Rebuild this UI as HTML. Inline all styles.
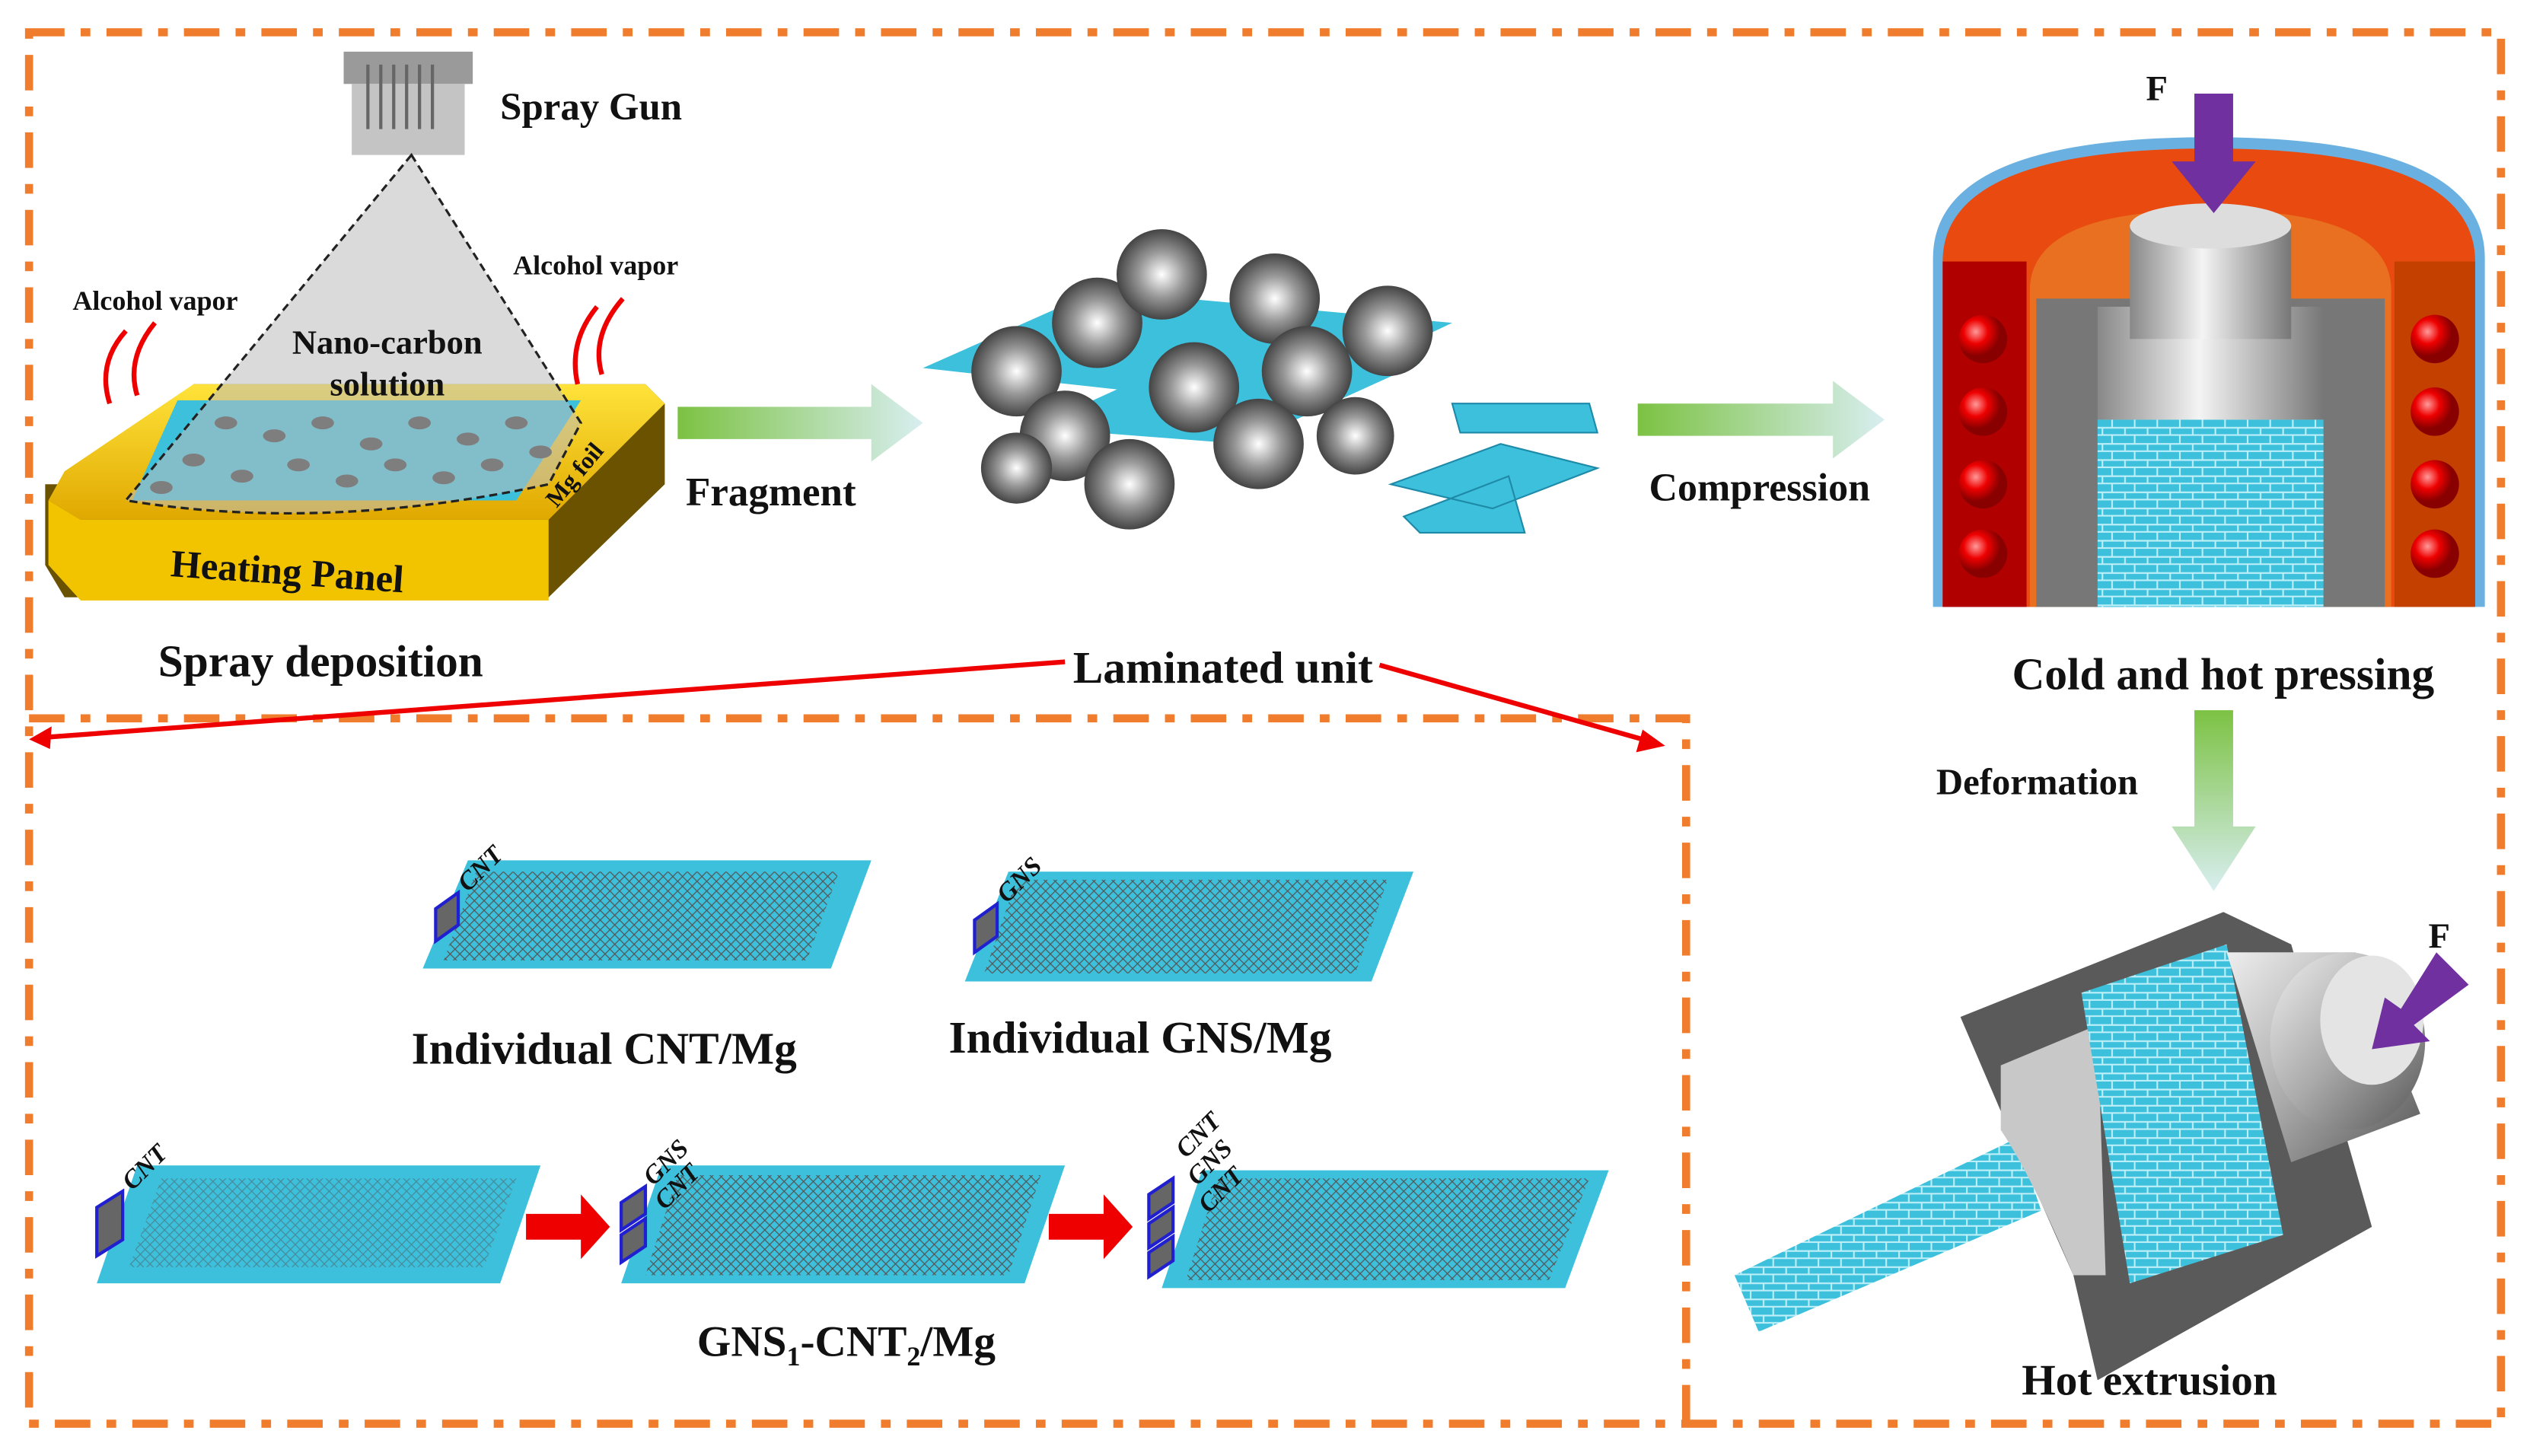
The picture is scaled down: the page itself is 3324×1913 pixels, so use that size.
<!DOCTYPE html>
<html><head><meta charset="utf-8"><style>html,body{margin:0;padding:0;background:#fff}svg{display:block}text{font-family:"Liberation Serif",serif;font-weight:bold;fill:#111}</style></head><body>
<svg width="3324" height="1913" viewBox="0 0 1568 902" preserveAspectRatio="none" xmlns="http://www.w3.org/2000/svg">
<defs>
<linearGradient id="ga" x1="0" x2="1"><stop offset="0" stop-color="#7cc243"/><stop offset="1" stop-color="#d8eef0"/></linearGradient>
<linearGradient id="gv" y1="0" y2="1" x1="0" x2="0"><stop offset="0" stop-color="#7cc243"/><stop offset="1" stop-color="#d8eef0"/></linearGradient>
<linearGradient id="cyl" x1="0" x2="1"><stop offset="0" stop-color="#888"/><stop offset=".45" stop-color="#f4f4f4"/><stop offset="1" stop-color="#777"/></linearGradient>
<linearGradient id="cyl2" x1="0" y1="0" x2="1" y2="1"><stop offset="0" stop-color="#eee"/><stop offset=".5" stop-color="#aaa"/><stop offset="1" stop-color="#555"/></linearGradient>
<linearGradient id="yl" y1="0" y2="1" x1="0" x2="0"><stop offset="0" stop-color="#ffe33a"/><stop offset="1" stop-color="#e0a800"/></linearGradient>
<radialGradient id="rb" cx=".35" cy=".35"><stop offset="0" stop-color="#ff9a9a"/><stop offset=".5" stop-color="#e00"/><stop offset="1" stop-color="#800"/></radialGradient>
<radialGradient id="disc" cx=".5" cy=".5"><stop offset="0" stop-color="#fff"/><stop offset=".5" stop-color="#999"/><stop offset="1" stop-color="#444"/></radialGradient>
<pattern id="brick" width="14" height="10" patternUnits="userSpaceOnUse"><rect width="14" height="10" fill="#3cc0dc"/><path d="M0 9.5H14M7 0V5M0 5H14M1 5V10" stroke="#bdeff8" stroke-width="1" fill="none"/></pattern>
<pattern id="mesh" width="6" height="6" patternUnits="userSpaceOnUse"><path d="M0 0L6 6M6 0L0 6" stroke="#555" stroke-width=".6"/></pattern>
</defs>
<g fill="none" stroke="#ef7d2d" stroke-width="5" stroke-dasharray="22 10 6 10">
<rect x="18" y="20" width="1532" height="862"/>
<path d="M18 445H1045V882"/>
</g>
<!-- spray gun -->
<rect x="213" y="32" width="80" height="20" fill="#9a9a9a"/>
<rect x="218" y="52" width="70" height="44" fill="#c4c4c4"/>
<path d="M228 40V80M236 40V80M244 40V80M252 40V80M260 40V80M268 40V80" stroke="#666" stroke-width="2"/>
<text x="310" y="74" font-size="24">Spray Gun</text>
<!-- heating panel -->
<path d="M40 300L120 238H400L412 250V300L340 370H40L28 350V300Z" fill="#6a5200"/>
<path d="M40 292L120 238H400L412 250L340 322H50L30 310Z" fill="url(#yl)"/>
<path d="M30 310L50 322H340V372H50L30 350Z" fill="#f2c400"/>
<path d="M110 248H360L320 310H82Z" fill="#3cc0dc"/>
<g fill="#333"><ellipse cx="140" cy="262" rx="7" ry="4"/><ellipse cx="170" cy="270" rx="7" ry="4"/><ellipse cx="200" cy="262" rx="7" ry="4"/><ellipse cx="230" cy="275" rx="7" ry="4"/><ellipse cx="260" cy="262" rx="7" ry="4"/><ellipse cx="290" cy="272" rx="7" ry="4"/><ellipse cx="320" cy="262" rx="7" ry="4"/><ellipse cx="120" cy="285" rx="7" ry="4"/><ellipse cx="150" cy="295" rx="7" ry="4"/><ellipse cx="185" cy="288" rx="7" ry="4"/><ellipse cx="215" cy="298" rx="7" ry="4"/><ellipse cx="245" cy="288" rx="7" ry="4"/><ellipse cx="275" cy="296" rx="7" ry="4"/><ellipse cx="305" cy="288" rx="7" ry="4"/><ellipse cx="335" cy="280" rx="7" ry="4"/><ellipse cx="100" cy="302" rx="7" ry="4"/></g>
<path d="M255 96L78 310Q200 330 340 300L360 262Z" fill="#bbb" fill-opacity=".55" stroke="#222" stroke-width="1.5" stroke-dasharray="5 3"/>
<text x="240" y="219" font-size="21" text-anchor="middle">Nano-carbon</text>
<text x="240" y="245" font-size="21" text-anchor="middle">solution</text>
<text x="45" y="192" font-size="17">Alcohol vapor</text>
<text x="318" y="170" font-size="17">Alcohol vapor</text>
<g stroke="#e00" stroke-width="3" fill="none"><path d="M68 250Q60 225 78 205"/><path d="M85 245Q78 222 96 200"/><path d="M358 238Q352 212 370 190"/><path d="M373 232Q366 208 386 185"/></g>
<text x="178" y="362" font-size="24" transform="rotate(4 178 355)" text-anchor="middle">Heating Panel</text>
<text x="345" y="315" font-size="15" transform="rotate(-50 345 315)">Mg foil</text>
<text x="98" y="419" font-size="28">Spray deposition</text>
<!-- arrows -->
<path d="M420 252H540V238L572 262L540 286V272H420Z" fill="url(#ga)"/>
<text x="425" y="313" font-size="25">Fragment</text>
<path d="M1015 250H1136V236L1168 260L1136 284V270H1015Z" fill="url(#ga)"/>
<text x="1022" y="310" font-size="24.5">Compression</text>
<!-- fragment -->
<path d="M572 228L680 180L900 200L790 252Z" fill="#3cc0dc"/>
<path d="M640 265L750 215L880 225L770 275Z" fill="#3cc0dc"/>
<g fill="url(#disc)"><circle cx="630" cy="230" r="28"/><circle cx="680" cy="200" r="28"/><circle cx="720" cy="170" r="28"/><circle cx="790" cy="185" r="28"/><circle cx="860" cy="205" r="28"/><circle cx="660" cy="270" r="28"/><circle cx="740" cy="240" r="28"/><circle cx="810" cy="230" r="28"/><circle cx="700" cy="300" r="28"/><circle cx="780" cy="275" r="28"/><circle cx="630" cy="290" r="22"/><circle cx="840" cy="270" r="24"/></g>
<path d="M900 250H985L990 268H905Z M862 300L930 275L990 290L925 315Z M870 320L935 295L945 330H880Z" fill="#3cc0dc" stroke="#1e8aa8"/>
<!-- hot pressing -->
<path d="M1198 160Q1198 85 1370 85Q1540 85 1540 160V376H1198Z" fill="#6ab0e0"/>
<path d="M1204 162Q1204 92 1370 92Q1534 92 1534 162V376H1204Z" fill="#e84a10"/>
<rect x="1204" y="162" width="52" height="214" fill="#b00000"/>
<rect x="1484" y="162" width="50" height="214" fill="#c44000"/>
<path d="M1258 180Q1258 130 1370 130Q1482 130 1482 180V376H1258Z" fill="#e87020"/>
<rect x="1262" y="185" width="216" height="191" fill="#777"/>
<rect x="1300" y="190" width="140" height="186" fill="url(#cyl)"/>
<rect x="1300" y="260" width="140" height="116" fill="url(#brick)"/>
<rect x="1320" y="140" width="100" height="70" fill="url(#cyl)"/>
<ellipse cx="1370" cy="140" rx="50" ry="14" fill="#ddd"/>
<g fill="url(#rb)"><circle cx="1229" cy="210" r="15"/><circle cx="1229" cy="255" r="15"/><circle cx="1229" cy="300" r="15"/><circle cx="1229" cy="343" r="15"/><circle cx="1509" cy="210" r="15"/><circle cx="1509" cy="255" r="15"/><circle cx="1509" cy="300" r="15"/><circle cx="1509" cy="343" r="15"/></g>
<path d="M1360 58H1384V100H1398L1372 132L1346 100H1360Z" fill="#7030a0"/>
<text x="1330" y="62" font-size="22">F</text>
<text x="1247" y="427" font-size="28">Cold and hot pressing</text>
<path d="M1360 440H1384V512H1398L1372 552L1346 512H1360Z" fill="url(#gv)"/>
<text x="1200" y="492" font-size="23">Deformation</text>
<!-- hot extrusion -->
<path d="M1075 790L1250 705L1265 750L1090 825Z" fill="url(#brick)"/>
<path d="M1215 630L1378 565L1420 585L1470 760L1300 855L1285 790L1245 700Z" fill="#5a5a5a"/>
<path d="M1240 660L1300 635L1305 790L1285 790Q1260 730 1240 700Z" fill="#c8c8c8"/>
<path d="M1290 615L1380 585L1415 765L1320 795Z" fill="url(#brick)"/>
<path d="M1380 590L1460 590L1500 690L1420 720Z" fill="url(#cyl2)"/>
<ellipse cx="1455" cy="645" rx="48" ry="55" fill="url(#cyl2)"/>
<ellipse cx="1470" cy="632" rx="32" ry="40" fill="#e4e4e4"/>
<path d="M1510 590L1530 610L1496 635L1506 645L1470 650L1478 618L1488 625Z" fill="#7030a0"/>
<text x="1505" y="587" font-size="22">F</text>
<text x="1253" y="864" font-size="27">Hot extrusion</text>
<!-- laminated unit arrows -->
<g stroke="#e00" stroke-width="3" fill="#e00"><path d="M660 410L25 457"/><path d="M855 412L1025 460"/></g>
<path d="M18 458L32 450L31 464Z M1032 462L1018 452L1014 466Z" fill="#e00"/>
<text x="665" y="423" font-size="28">Laminated unit</text>
<!-- inner panels -->
<g fill="#3cc0dc">
<path d="M290 533H540L515 600H262Z"/><path d="M625 540H876L850 608H598Z"/>
<path d="M85 722H335L310 795H60Z"/><path d="M410 722H660L635 795H385Z"/><path d="M745 725H997L970 798H720Z"/>
</g>
<g fill="url(#mesh)">
<path d="M295 540H520L500 595H275Z"/><path d="M630 545H860L840 603H610Z"/>
<path d="M100 730H320L300 785H80Z" opacity=".5"/><path d="M420 728H645L625 790H400Z"/><path d="M755 730H985L960 793H735Z"/>
</g>
<g fill="#666" stroke="#2020d0" stroke-width="2">
<path d="M270 563L284 553V573L270 583Z"/><path d="M604 570L618 560V580L604 590Z"/>
<path d="M60 748L76 738V768L60 778Z"/><path d="M385 745L400 735V752L385 762Z M385 765L400 755V772L385 782Z"/><path d="M712 740L727 730V745L712 755Z M712 758L727 748V763L712 773Z M712 776L727 766V781L712 791Z"/>
</g>
<g font-size="16" font-style="italic">
<text x="290" y="553" transform="rotate(-45 290 553)">CNT</text><text x="624" y="560" transform="rotate(-45 624 560)">GNS</text>
<text x="82" y="738" transform="rotate(-45 82 738)">CNT</text>
<text x="405" y="735" transform="rotate(-45 405 735)">GNS</text><text x="412" y="750" transform="rotate(-45 412 750)">CNT</text>
<text x="735" y="718" transform="rotate(-45 735 718)">CNT</text><text x="742" y="735" transform="rotate(-45 742 735)">GNS</text><text x="749" y="752" transform="rotate(-45 749 752)">CNT</text>
</g>
<path d="M326 752H360V740L378 760L360 780V768H326Z M650 752H684V740L702 760L684 780V768H650Z" fill="#e00"/>
<text x="255" y="659" font-size="28">Individual CNT/Mg</text>
<text x="588" y="652" font-size="28">Individual GNS/Mg</text>
<text x="432" y="840" font-size="27">GNS<tspan font-size="17" dy="6">1</tspan><tspan dy="-6">-CNT</tspan><tspan font-size="17" dy="6">2</tspan><tspan dy="-6">/Mg</tspan></text>
</svg>
</body></html>
